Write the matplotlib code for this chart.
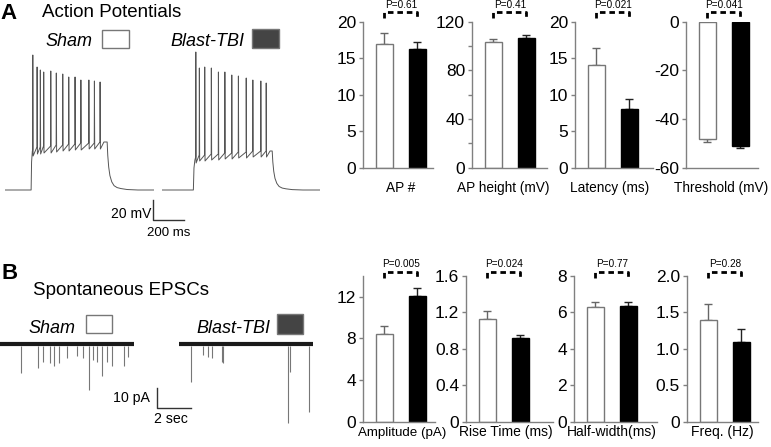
import matplotlib
matplotlib.use('Agg')
import matplotlib.pyplot as plt
from matplotlib.patches import Rectangle
import matplotlib.transforms as mtransforms

plt.rcParams['axes.unicode_minus'] = False

# ---------------- data ----------------
groups = ['Sham', 'Blast-TBI']

# Panel A bar data (mean, error)
ap_count = [17.0, 16.2]
ap_count_err = [1.4, 1.0]
ap_height = [103.6, 106.3]
ap_height_err = [1.9, 2.5]
latency = [14.0, 8.1]
latency_err = [2.4, 1.3]
threshold = [-48.2, -51.2]
threshold_err = [1.4, 0.9]

# Panel B bar data
amplitude = [8.4, 12.1]
amplitude_err = [0.8, 0.7]
rise_time = [1.13, 0.92]
rise_time_err = [0.09, 0.03]
half_width = [6.28, 6.36]
half_width_err = [0.28, 0.2]
freq = [1.40, 1.10]
freq_err = [0.21, 0.17]

p_top = ['P=0.61', 'P=0.41', 'P=0.021', 'P=0.041']
p_bottom = ['P=0.005', 'P=0.024', 'P=0.77', 'P=0.28']
labels_top = ['AP #', 'AP height (mV)', 'Latency (ms)', 'Threshold (mV)']
labels_bottom = ['Amplitude (pA)', 'Rise Time (ms)', 'Half-width(ms)', 'Freq. (Hz)']

# Action potential traces (ms, mV)
rest_mv = -70
sham_t_on, sham_t_off, sham_t_end = 170, 665, 970
sham_rise_dt = [3, 8]
sham_rise_v = [-42, -31]
sham_spike_t = [181, 209, 230, 252, 298, 334, 376, 415, 456, 494, 546, 582, 619]
sham_spike_peak = [65, 53, 50, 48, 49, 47, 46, 43, 43, 40, 40, 39, 38]
sham_spike_pre = [-30, -27, -27, -26, -26, -25, -25, -24, -24, -23, -23, -23, -22]
sham_spike_trough = [-36, -34, -34, -33, -33, -32, -31, -31, -30, -30, -29, -29, -29]
sham_end_v = -22

blast_t_on, blast_t_off, blast_t_end = 206, 719, 1030
blast_rise_dt = [4, 10]
blast_rise_v = [-48, -40]
blast_spike_t = [222, 245, 280, 323, 369, 411, 456, 499, 550, 593, 645, 680]
blast_spike_peak = [68, 52, 53, 52, 48, 48, 45, 44, 42, 40, 39, 37]
blast_spike_pre = [-37, -35, -35, -34, -34, -33, -33, -32, -32, -31, -31, -31]
blast_spike_trough = [-43, -41, -41, -40, -40, -39, -39, -38, -38, -37, -37, -37]
blast_end_v = -31

decay_dt = [0, 4, 10, 18, 30, 45, 65, 90, 130, 200]
decay_frac = [1.0, 0.72, 0.48, 0.30, 0.17, 0.09, 0.05, 0.03, 0.01, 0.0]

# Spontaneous EPSC traces (s, pA)
sham_epsc_dur = 7.88
sham_epsc_t = [1.22, 2.22, 2.55, 2.94, 3.19, 3.49, 3.92, 4.51, 4.86, 5.25, 5.49, 5.69, 5.98, 6.28, 6.57, 7.29, 7.55]
sham_epsc_amp = [14.5, 12, 9, 9.5, 11, 9.5, 7, 6, 7, 23, 8, 9, 16, 9, 11, 11, 6.5]
blast_epsc_dur = 7.85
blast_epsc_t = [0.69, 1.41, 1.67, 1.91, 2.49, 2.59, 6.38, 6.50, 7.63]
blast_epsc_amp = [19, 5.5, 6.3, 7, 8.8, 9.7, 39.5, 14, 33.8]

# ---------------- figure ----------------
W, H = 771, 447
fig = plt.figure(figsize=(W / 100, H / 100), dpi=100)
SANS = 'Liberation Sans'


def px_axes(left, top, right, bottom):
    return fig.add_axes([left / W, 1 - bottom / H, (right - left) / W, (bottom - top) / H])


GRAY = '#808080'
PX_PER_UNIT = 33.0


def bar_panel(left, top, bottom, width, vals, errs, ylim, ticks, ticklabels,
              pval, tick_fs, br_y, br_end, txt_y, minor=None):
    ax = px_axes(left, top, left + width, bottom)
    ax.set_facecolor('none')
    x = [0, 1]
    ax.bar(x, vals, width=0.53, color=['white', 'black'],
           edgecolor=['#777777', 'black'], linewidth=1, zorder=2)
    for xi, v, e, col in zip(x, vals, errs, ['#666666', '#222222']):
        yerr = [[0], [e]] if v >= 0 else [[e], [0]]
        ax.errorbar([xi], [v], yerr=yerr, fmt='none', ecolor=col,
                    elinewidth=1, capsize=3.2, capthick=1, zorder=1)
    ax.set_xlim(-0.65, -0.65 + width / PX_PER_UNIT)
    ax.set_ylim(*ylim)
    ax.set_xticks([])
    ax.set_yticks(ticks)
    ax.set_yticklabels(ticklabels, fontfamily=SANS, fontsize=tick_fs)
    if minor is not None:
        ax.set_yticks(minor, minor=True)
        ax.tick_params(axis='y', which='minor', direction='out', length=3,
                       width=1, color=GRAY)
    ax.tick_params(axis='y', which='major', direction='out', length=3, width=1,
                   color=GRAY, pad=2, labelcolor='black')
    for s in ['top', 'right']:
        ax.spines[s].set_visible(False)
    for s in ['left', 'bottom']:
        ax.spines[s].set_color(GRAY)
        ax.spines[s].set_linewidth(1)
    tr = mtransforms.blended_transform_factory(ax.transData, ax.transAxes)
    ax.plot([0, 0, 1, 1], [br_end, br_y, br_y, br_end], color='black', lw=2,
            ls=(0, (2.0, 1.4)), transform=tr, clip_on=False)
    ax.text(0.5, txt_y, pval, transform=tr, ha='center', va='center',
            fontfamily=SANS, fontsize=7.2)
    return ax


ov = fig.add_axes([0, 0, 1, 1])
ov.set_xlim(0, W)
ov.set_ylim(H, 0)
ov.axis('off')
ov.set_facecolor('none')

# Top row
top_lefts = [363, 472, 575, 686]
top_widths = [70, 75, 78, 72]
top_label_cx = [401, 503.5, 610, 720.8]
top_vals = [ap_count, ap_height, latency, threshold]
top_errs = [ap_count_err, ap_height_err, latency_err, threshold_err]
top_ylims = [(0, 20), (0, 120), (0, 20), (-60, 0)]
top_ticks = [[0, 5, 10, 15, 20], [0, 40, 80, 120], [0, 5, 10, 15, 20], [-60, -40, -20, 0]]
top_minor = [None, [20, 60, 100], None, None]
for i in range(4):
    bar_panel(top_lefts[i], 21.7, 167.7, top_widths[i], top_vals[i], top_errs[i],
              top_ylims[i], top_ticks[i], [str(t) for t in top_ticks[i]],
              p_top[i], 12.5, 1.064, 1.025, 1.115, minor=top_minor[i])
    ov.text(top_label_cx[i], 191.7, labels_top[i], ha='center', va='baseline',
            fontfamily=SANS, fontsize=9.8)

# Bottom row
bot_lefts = [363, 466, 574, 687]
bot_widths = [72, 87, 83, 71]
bot_label_cx = [402, 505.8, 611.7, 722.5]
bot_label_fs = [9.6, 10, 10, 10]
bot_vals = [amplitude, rise_time, half_width, freq]
bot_errs = [amplitude_err, rise_time_err, half_width_err, freq_err]
bot_ylims = [(0, 14), (0, 1.6), (0, 8), (0, 2.0)]
bot_ticks = [[0, 4, 8, 12], [0, 0.4, 0.8, 1.2, 1.6], [0, 2, 4, 6, 8], [0, 0.5, 1.0, 1.5, 2.0]]
bot_ticklabels = [['0', '4', '8', '12'], ['0', '0.4', '0.8', '1.2', '1.6'],
                  ['0', '2', '4', '6', '8'], ['0', '0.5', '1.0', '1.5', '2.0']]
for i in range(4):
    bar_panel(bot_lefts[i], 276, 421.7, bot_widths[i], bot_vals[i], bot_errs[i],
              bot_ylims[i], bot_ticks[i], bot_ticklabels[i],
              p_bottom[i], 12.5, 1.025, 0.985, 1.08)
    ov.text(bot_label_cx[i], 436, labels_bottom[i], ha='center', va='baseline',
            fontfamily=SANS, fontsize=bot_label_fs[i])


# ---------------- AP traces ----------------
def ap_trace(t_on, t_off, t_end, rise_dt, rise_v, sp_t, sp_pre, sp_peak, sp_trough, end_v):
    t = [0, t_on] + [t_on + d for d in rise_dt]
    v = [rest_mv, rest_mv] + list(rise_v)
    for st, pre, pk, trg in zip(sp_t, sp_pre, sp_peak, sp_trough):
        t += [st - 1.0, st, st + 2.0]
        v += [pre, pk, trg]
    t += [sp_t[-1] + 25]
    v += [end_v]
    for d, f in zip(decay_dt, decay_frac):
        t.append(t_off + d)
        v.append(rest_mv + (end_v - rest_mv) * f)
    t.append(t_end)
    v.append(rest_mv)
    return t, v


TRACE_COL = '#555555'
ax_s = px_axes(5, 40, 154, 235)
ts, vs = ap_trace(sham_t_on, sham_t_off, sham_t_end, sham_rise_dt, sham_rise_v,
                  sham_spike_t, sham_spike_pre, sham_spike_peak, sham_spike_trough, sham_end_v)
ax_s.plot(ts, vs, color=TRACE_COL, lw=0.7)
ax_s.set_xlim(0, 970)
ax_s.set_ylim(-115, 80)
ax_s.axis('off')
# scale bar: 20 mV / 200 ms
ax_s.plot([966, 966, 1166], [-80, -100, -100], color='#333333', lw=1, clip_on=False)

ax_b = px_axes(161.7, 40, 320, 235)
tb, vb = ap_trace(blast_t_on, blast_t_off, blast_t_end, blast_rise_dt, blast_rise_v,
                  blast_spike_t, blast_spike_pre, blast_spike_peak, blast_spike_trough, blast_end_v)
ax_b.plot(tb, vb, color=TRACE_COL, lw=0.7)
ax_b.set_xlim(0, 1030)
ax_b.set_ylim(-115, 80)
ax_b.axis('off')


# ---------------- EPSC traces ----------------
def epsc_trace(ax, dur, ev_t, ev_amp):
    ax.vlines(ev_t, [-1] * len(ev_t), [-a for a in ev_amp], color='#777777', lw=0.8, zorder=1)
    ax.plot([0, dur], [0, 0], color='#1a1a1a', lw=3.0, solid_capstyle='butt', zorder=2)
    ax.set_xlim(0, dur)
    ax.set_ylim(-45, 5)
    ax.axis('off')


ax_es = px_axes(0, 334, 134, 434)
epsc_trace(ax_es, sham_epsc_dur, sham_epsc_t, sham_epsc_amp)
ax_es.plot([9.22, 9.22, 11.22], [-22.15, -32.15, -32.15], color='#333333', lw=1, clip_on=False)

ax_eb = px_axes(179.3, 334, 312.7, 434)
epsc_trace(ax_eb, blast_epsc_dur, blast_epsc_t, blast_epsc_amp)

# ---------------- overlay text ----------------
ov.text(0, 19, 'A', fontfamily=SANS, fontweight='bold', fontsize=16, va='baseline')
ov.text(41.7, 17, 'Action Potentials', fontfamily=SANS, fontsize=13.5, va='baseline')
ov.text(45.7, 46, groups[0], fontfamily=SANS, fontstyle='italic', fontsize=13, va='baseline')
ov.add_patch(Rectangle((102, 29.5), 26.5, 18.5, facecolor='white', edgecolor='#777777', lw=1))
ov.text(170, 46, groups[1], fontfamily=SANS, fontstyle='italic', fontsize=13, va='baseline')
ov.add_patch(Rectangle((252.3, 29), 26.7, 18.5, facecolor='#444444', edgecolor='#777777', lw=1))
ov.text(151.5, 218, '20 mV', fontfamily=SANS, fontsize=10, ha='right', va='baseline')
ov.text(146.7, 235.7, '200 ms', fontfamily=SANS, fontsize=9.5, ha='left', va='baseline')

ov.text(1.7, 279.3, 'B', fontfamily=SANS, fontweight='bold', fontsize=16, va='baseline')
ov.text(33.3, 295, 'Spontaneous EPSCs', fontfamily=SANS, fontsize=13.5, va='baseline')
ov.text(28.3, 332.7, groups[0], fontfamily=SANS, fontstyle='italic', fontsize=13, va='baseline')
ov.add_patch(Rectangle((86, 315), 25.7, 18.3, facecolor='white', edgecolor='#777777', lw=1))
ov.text(196.7, 332.7, groups[1], fontfamily=SANS, fontstyle='italic', fontsize=13, va='baseline')
ov.add_patch(Rectangle((276.7, 314.3), 26.6, 19.7, facecolor='#444444', edgecolor='#777777', lw=1))
ov.text(150, 401.7, '10 pA', fontfamily=SANS, fontsize=10.2, ha='right', va='baseline')
ov.text(154, 423.3, '2 sec', fontfamily=SANS, fontsize=10.2, ha='left', va='baseline')

fig.savefig('out.png', dpi=100)
